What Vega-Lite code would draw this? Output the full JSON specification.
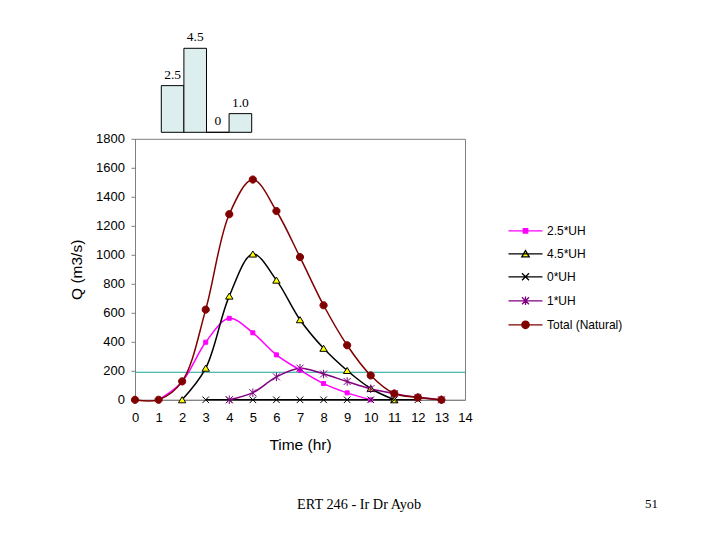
{
  "$schema": "https://vega.github.io/schema/vega-lite/v6.json",
  "padding": {"left": 69, "top": 30.3, "right": 5, "bottom": 5},
  "background": "white",
  "config": {
    "font": "Liberation Sans",
    "view": {"stroke": null},
    "axis": {"grid": false, "domainColor": "#808080", "tickColor": "#808080", "labelColor": "black", "titleColor": "black", "labelFont": "Liberation Sans", "titleFont": "Liberation Sans", "labelFontSize": 13, "titleFontSize": 15.5, "titleFontWeight": "normal", "labelOverlap": false},
    "legend": {"labelFont": "Liberation Sans", "labelFontSize": 12, "labelColor": "black", "labelOffset": 10.5, "rowPadding": 6, "symbolOpacity": 1, "symbolSize": 400, "symbolStrokeWidth": 1.3, "padding": 0}
  },
  "title": {"text": "ERT 246 - Ir Dr Ayob", "orient": "bottom", "anchor": "start", "frame": "group", "font": "Liberation Serif", "fontSize": 14.3, "fontWeight": "normal", "color": "black", "offset": 0, "dx": 162, "dy": -14},
  "datasets": {
    "rain": [
      {"start": 0, "end": 1, "mid": 0.5, "p": 2.5, "label": "2.5"},
      {"start": 1, "end": 2, "mid": 1.5, "p": 4.5, "label": "4.5"},
      {"start": 2, "end": 3, "mid": 2.5, "p": 0, "label": "0"},
      {"start": 3, "end": 4, "mid": 3.5, "p": 1.0, "label": "1.0"}
    ],
    "phi": [{"q": 190}],
    "flow": [
      {"s": "2.5*UH", "t": 1, "q": 0},
      {"s": "2.5*UH", "t": 2, "q": 125},
      {"s": "2.5*UH", "t": 3, "q": 397},
      {"s": "2.5*UH", "t": 4, "q": 562},
      {"s": "2.5*UH", "t": 5, "q": 462},
      {"s": "2.5*UH", "t": 6, "q": 310},
      {"s": "2.5*UH", "t": 7, "q": 205},
      {"s": "2.5*UH", "t": 8, "q": 112},
      {"s": "2.5*UH", "t": 9, "q": 48},
      {"s": "2.5*UH", "t": 10, "q": 0},
      {"s": "4.5*UH", "t": 2, "q": 0},
      {"s": "4.5*UH", "t": 3, "q": 218},
      {"s": "4.5*UH", "t": 4, "q": 715},
      {"s": "4.5*UH", "t": 5, "q": 1005},
      {"s": "4.5*UH", "t": 6, "q": 825},
      {"s": "4.5*UH", "t": 7, "q": 552},
      {"s": "4.5*UH", "t": 8, "q": 355},
      {"s": "4.5*UH", "t": 9, "q": 202},
      {"s": "4.5*UH", "t": 10, "q": 78},
      {"s": "4.5*UH", "t": 11, "q": 0},
      {"s": "0*UH", "t": 3, "q": 0},
      {"s": "0*UH", "t": 4, "q": 0},
      {"s": "0*UH", "t": 5, "q": 0},
      {"s": "0*UH", "t": 6, "q": 0},
      {"s": "0*UH", "t": 7, "q": 0},
      {"s": "0*UH", "t": 8, "q": 0},
      {"s": "0*UH", "t": 9, "q": 0},
      {"s": "0*UH", "t": 10, "q": 0},
      {"s": "0*UH", "t": 11, "q": 0},
      {"s": "0*UH", "t": 12, "q": 0},
      {"s": "1*UH", "t": 4, "q": 0},
      {"s": "1*UH", "t": 5, "q": 49},
      {"s": "1*UH", "t": 6, "q": 158},
      {"s": "1*UH", "t": 7, "q": 218},
      {"s": "1*UH", "t": 8, "q": 178},
      {"s": "1*UH", "t": 9, "q": 126},
      {"s": "1*UH", "t": 10, "q": 76},
      {"s": "1*UH", "t": 11, "q": 42},
      {"s": "1*UH", "t": 12, "q": 17},
      {"s": "1*UH", "t": 13, "q": 0},
      {"s": "Total (Natural)", "t": 0, "q": 0},
      {"s": "Total (Natural)", "t": 1, "q": 0},
      {"s": "Total (Natural)", "t": 2, "q": 127},
      {"s": "Total (Natural)", "t": 3, "q": 622},
      {"s": "Total (Natural)", "t": 4, "q": 1280},
      {"s": "Total (Natural)", "t": 5, "q": 1519},
      {"s": "Total (Natural)", "t": 6, "q": 1302},
      {"s": "Total (Natural)", "t": 7, "q": 984},
      {"s": "Total (Natural)", "t": 8, "q": 652},
      {"s": "Total (Natural)", "t": 9, "q": 376},
      {"s": "Total (Natural)", "t": 10, "q": 168},
      {"s": "Total (Natural)", "t": 11, "q": 43},
      {"s": "Total (Natural)", "t": 12, "q": 16},
      {"s": "Total (Natural)", "t": 13, "q": 0}
    ]
  },
  "spacing": -1.5,
  "vconcat": [
    {
      "width": 330,
      "height": 84,
      "data": {"name": "rain"},
      "layer": [
        {
          "mark": {"type": "rect", "fill": "#dcefee", "stroke": "black", "strokeWidth": 1},
          "encoding": {
            "x": {"field": "start", "type": "quantitative", "scale": {"domain": [-1.164, 13.44], "nice": false, "zero": false}, "axis": null},
            "x2": {"field": "end"},
            "y": {"field": "p", "type": "quantitative", "scale": {"domain": [0, 4.5], "nice": false}, "axis": null},
            "y2": {"datum": 0}
          }
        },
        {
          "mark": {"type": "text", "font": "Liberation Serif", "fontSize": 13.5, "baseline": "alphabetic", "dy": -7, "color": "black"},
          "encoding": {
            "x": {"field": "mid", "type": "quantitative"},
            "y": {"field": "p", "type": "quantitative"},
            "text": {"field": "label"}
          }
        }
      ]
    },
    {
      "width": 330,
      "height": 261,
      "view": {"stroke": "#808080", "strokeWidth": 1},
      "title": {"text": "51", "orient": "bottom", "anchor": "end", "frame": "group", "font": "Liberation Serif", "fontSize": 13, "fontWeight": "normal", "color": "black", "offset": 45, "dx": 193},
      "resolve": {"scale": {"stroke": "independent", "fill": "independent", "shape": "independent"}},
      "layer": [
        {
          "data": {"name": "phi"},
          "mark": {"type": "rule", "color": "#1aa39a", "stroke": "#1aa39a", "strokeWidth": 1.2},
          "encoding": {
            "y": {"field": "q", "type": "quantitative", "scale": {"domain": [0, 1800], "nice": false}, "axis": {"values": [0,200,400,600,800,1000,1200,1400,1600,1800], "tickCount": 20, "format": "d", "title": "Q (m3/s)", "tickSize": 4, "labelPadding": 6.5, "titlePadding": 11, "labelOverlap": false}}
          }
        },
        {
          "data": {"name": "flow"},
          "mark": {"type": "line", "interpolate": "catmull-rom", "strokeWidth": 1.5},
          "encoding": {
            "x": {"field": "t", "type": "quantitative", "scale": {"domain": [0, 14], "nice": false}, "axis": {"values": [0,1,2,3,4,5,6,7,8,9,10,11,12,13,14], "tickCount": 30, "format": "d", "title": "Time (hr)", "ticks": false, "labelPadding": 12, "titlePadding": 13, "labelFlush": false, "labelOverlap": false}},
            "y": {"field": "q", "type": "quantitative", "scale": {"domain": [0, 1800], "nice": false}, "axis": {"values": [0,200,400,600,800,1000,1200,1400,1600,1800], "tickCount": 20, "format": "d", "title": "Q (m3/s)", "tickSize": 4, "labelPadding": 6.5, "titlePadding": 11, "labelOverlap": false}},
            "stroke": {"field": "s", "type": "nominal", "scale": {"domain": ["2.5*UH", "4.5*UH", "0*UH", "1*UH", "Total (Natural)"], "range": ["#ff00ff", "#000000", "#000000", "#800080", "#800000"]}, "legend": null}
          }
        },
        {
          "data": {"name": "flow"},
          "mark": {"type": "point", "filled": true, "opacity": 1, "size": 100, "strokeWidth": 1},
          "encoding": {
            "x": {"field": "t", "type": "quantitative", "axis": {"values": [0,1,2,3,4,5,6,7,8,9,10,11,12,13,14], "tickCount": 30, "format": "d", "title": "Time (hr)", "ticks": false, "labelPadding": 12, "titlePadding": 13, "labelFlush": false, "labelOverlap": false}},
            "y": {"field": "q", "type": "quantitative", "axis": {"values": [0,200,400,600,800,1000,1200,1400,1600,1800], "tickCount": 20, "format": "d", "title": "Q (m3/s)", "tickSize": 4, "labelPadding": 6.5, "titlePadding": 11, "labelOverlap": false}},
            "shape": {"field": "s", "type": "nominal", "scale": {"domain": ["2.5*UH", "4.5*UH", "0*UH", "1*UH", "Total (Natural)"], "range": ["M-0.4,-0.4H0.4V0.4H-0.4Z", "M0,-0.62L0.74,0.6H-0.74Z", "M-0.66,-0.66L0.66,0.66M-0.66,0.66L0.66,-0.66", "M-0.7,-0.7L0.7,0.7M-0.7,0.7L0.7,-0.7M0,-0.85V0.85", "M0.72,0A0.72,0.72 0 1,1 -0.72,0A0.72,0.72 0 1,1 0.72,0Z"]}, "legend": null},
            "fill": {"field": "s", "type": "nominal", "scale": {"domain": ["2.5*UH", "4.5*UH", "0*UH", "1*UH", "Total (Natural)"], "range": ["#ff00ff", "#ffff00", "transparent", "transparent", "#800000"]}, "legend": null},
            "stroke": {"field": "s", "type": "nominal", "scale": {"domain": ["2.5*UH", "4.5*UH", "0*UH", "1*UH", "Total (Natural)"], "range": ["#ff00ff", "#000000", "#000000", "#800080", "#800000"]}, "legend": null}
          }
        },
        {
          "data": {"name": "flow"},
          "transform": [{"filter": "datum.t < 0"}],
          "mark": {"type": "point", "filled": true, "opacity": 0, "size": 400, "strokeWidth": 1.3},
          "encoding": {
            "shape": {"field": "s", "type": "nominal", "scale": {"domain": ["2.5*UH", "4.5*UH", "0*UH", "1*UH", "Total (Natural)"], "range": ["M-1.7,0H1.7M-0.22,-0.22H0.22V0.22H-0.22Z", "M-1.7,0H1.7M0,-0.32L0.37,0.3H-0.37Z", "M-1.7,0H1.7M-0.35,-0.35L0.35,0.35M-0.35,0.35L0.35,-0.35", "M-1.7,0H1.7M-0.35,-0.35L0.35,0.35M-0.35,0.35L0.35,-0.35M0,-0.42V0.42", "M-1.7,0H1.7M0.37,0A0.37,0.37 0 1,1 -0.37,0A0.37,0.37 0 1,1 0.37,0Z"]}, "legend": {"title": null, "orient": "none", "legendX": 379.5, "legendY": 81}},
            "fill": {"field": "s", "type": "nominal", "scale": {"domain": ["2.5*UH", "4.5*UH", "0*UH", "1*UH", "Total (Natural)"], "range": ["#ff00ff", "#ffff00", "transparent", "transparent", "#800000"]}, "legend": {"title": null, "orient": "none", "legendX": 379.5, "legendY": 81}},
            "stroke": {"field": "s", "type": "nominal", "scale": {"domain": ["2.5*UH", "4.5*UH", "0*UH", "1*UH", "Total (Natural)"], "range": ["#ff00ff", "#000000", "#000000", "#800080", "#800000"]}, "legend": {"title": null, "orient": "none", "legendX": 379.5, "legendY": 81}}
          }
        }
      ]
    }
  ]
}
